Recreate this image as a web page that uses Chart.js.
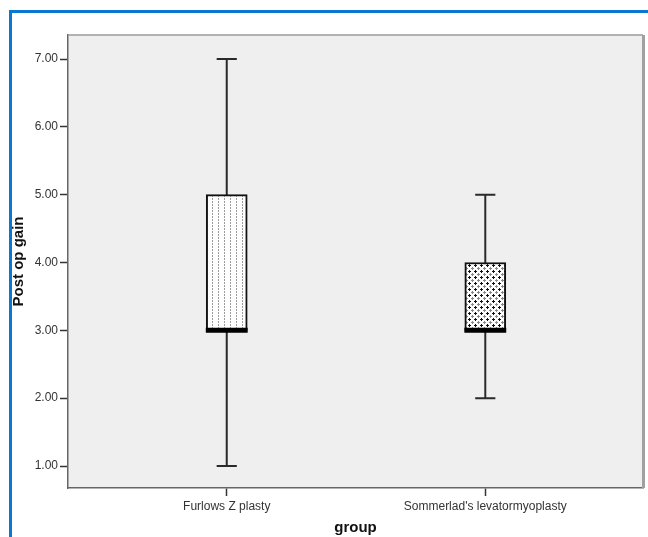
<!DOCTYPE html>
<html><head><meta charset="utf-8">
<script src="https://cdn.jsdelivr.net/npm/chart.js@4/dist/chart.umd.min.js"></script>
<style>
html,body{margin:0;padding:0;background:#fff;}
#wrap{position:relative;width:648px;height:537px;overflow:hidden;}
#frame{position:absolute;left:9px;top:10px;width:700px;height:600px;border-left:3px solid #0a78d2;border-top:3px solid #0a78d2;}
canvas{position:absolute;left:0;top:0;}
</style></head><body>
<div id="wrap"><div id="frame"></div><canvas id="c" width="648" height="537"></canvas></div>
<script>
const categories = ["Furlows Z plasty", "Sommerlad's levatormyoplasty"];
const minValues = [1, 2];
const q1Values = [3, 3];
const medianValues = [3, 3];
const q3Values = [5, 4];
const maxValues = [7, 5];
const yTicks = [1, 2, 3, 4, 5, 6, 7];

const positions = categories.map((c, i) => i + 1);
const CAP_HALF = 0.039;
const MED_HALF = 0.081;

function makePattern(kind) {
  const t = document.createElement('canvas');
  const g = t.getContext('2d');
  if (kind === 0) {
    t.width = 6; t.height = 3;
    g.fillStyle = '#fff'; g.fillRect(0, 0, 6, 3);
    g.fillStyle = '#9c9c9c'; g.fillRect(2, 0, 1, 2);
  } else {
    t.width = 6; t.height = 6;
    g.fillStyle = '#fff'; g.fillRect(0, 0, 6, 6);
    g.fillStyle = '#111';
    g.fillRect(0, 1, 3, 1); g.fillRect(1, 0, 1, 3);
    g.fillStyle = '#8a8a8a';
    g.fillRect(3, 4, 3, 1); g.fillRect(4, 3, 1, 3);
  }
  return document.getElementById('c').getContext('2d').createPattern(t, 'repeat');
}

const whiskerData = [];
const medianData = [];
positions.forEach((p, i) => {
  whiskerData.push({x: p, y: minValues[i]}, {x: p, y: maxValues[i]}, {x: p, y: null});
  whiskerData.push({x: p - CAP_HALF, y: minValues[i]}, {x: p + CAP_HALF, y: minValues[i]}, {x: p, y: null});
  whiskerData.push({x: p - CAP_HALF, y: maxValues[i]}, {x: p + CAP_HALF, y: maxValues[i]}, {x: p, y: null});
  medianData.push({x: p - MED_HALF, y: medianValues[i]}, {x: p + MED_HALF, y: medianValues[i]}, {x: p, y: null});
});

const bgPlugin = {
  id: 'bg',
  beforeDraw(chart) {
    const {ctx, chartArea: a} = chart;
    ctx.save();
    ctx.fillStyle = '#efefef';
    ctx.fillRect(a.left, a.top, a.right - a.left, a.bottom - a.top);
    ctx.restore();
  },
  afterDraw(chart) {
    const {ctx, chartArea: a} = chart;
    ctx.save();
    ctx.strokeStyle = '#9a9a9a';
    ctx.lineWidth = 1.5;
    ctx.beginPath(); ctx.moveTo(a.left, a.top); ctx.lineTo(a.right, a.top); ctx.stroke();
    ctx.lineWidth = 3;
    ctx.strokeStyle = '#a0a0a0';
    ctx.beginPath(); ctx.moveTo(a.right + 0.5, a.top); ctx.lineTo(a.right + 0.5, a.bottom); ctx.stroke();
    ctx.restore();
  }
};

new Chart(document.getElementById('c'), {
  type: 'bar',
  data: {
    datasets: [
      {
        type: 'bar',
        data: positions.map((p, i) => ({x: p, y: [q1Values[i], q3Values[i]]})),
        backgroundColor: [makePattern(0), makePattern(1)],
        borderColor: '#111',
        borderWidth: 2,
        borderSkipped: false,
        barThickness: 41,
        order: 1
      },
      {
        type: 'line',
        data: whiskerData,
        borderColor: '#2a2a2a',
        borderWidth: 2,
        pointRadius: 0,
        spanGaps: false,
        fill: false,
        order: 2
      },
      {
        type: 'line',
        data: medianData,
        borderColor: '#000',
        borderWidth: 5,
        pointRadius: 0,
        spanGaps: false,
        fill: false,
        borderCapStyle: 'butt',
        order: 0
      }
    ]
  },
  options: {
    responsive: false,
    animation: false,
    layout: {padding: {top: 35, right: 5, left: 0, bottom: 0}},
    plugins: {legend: {display: false}, tooltip: {enabled: false}},
    scales: {
      x: {
        type: 'linear',
        min: 0.386,
        max: 2.61,
        offset: false,
        afterBuildTicks: s => { s.ticks = positions.map(v => ({value: v})); },
        afterFit: s => { s.height = 49; },
        ticks: {
          autoSkip: false,
          maxRotation: 0,
          padding: 3,
          color: '#333',
          font: {family: 'Liberation Sans, Arial, sans-serif', size: 12},
          callback: v => categories[Math.round(v) - 1]
        },
        grid: {drawOnChartArea: false, tickLength: 8, color: '#333', tickWidth: 1.5, offset: false},
        border: {display: true, color: '#666', width: 1.5},
        title: {
          display: true, text: 'group', color: '#111',
          font: {family: 'Liberation Sans, Arial, sans-serif', size: 15, weight: 'bold'},
          padding: {top: 0, bottom: 0}
        }
      },
      y: {
        type: 'linear',
        min: 0.676,
        max: 7.354,
        afterBuildTicks: s => { s.ticks = yTicks.map(v => ({value: v})); },
        afterFit: s => { s.width = 68; },
        ticks: {
          padding: 2,
          color: '#333',
          font: {family: 'Liberation Sans, Arial, sans-serif', size: 12},
          callback: v => Number(v).toFixed(2)
        },
        grid: {drawOnChartArea: false, tickLength: 8, color: '#333', tickWidth: 1.5},
        border: {display: true, color: '#666', width: 1.5},
        title: {
          display: true, text: 'Post op gain', color: '#111',
          font: {family: 'Liberation Sans, Arial, sans-serif', size: 15, weight: 'bold'},
          padding: {top: 10, bottom: 0}
        }
      }
    }
  },
  plugins: [bgPlugin]
});
</script>
</body></html>
